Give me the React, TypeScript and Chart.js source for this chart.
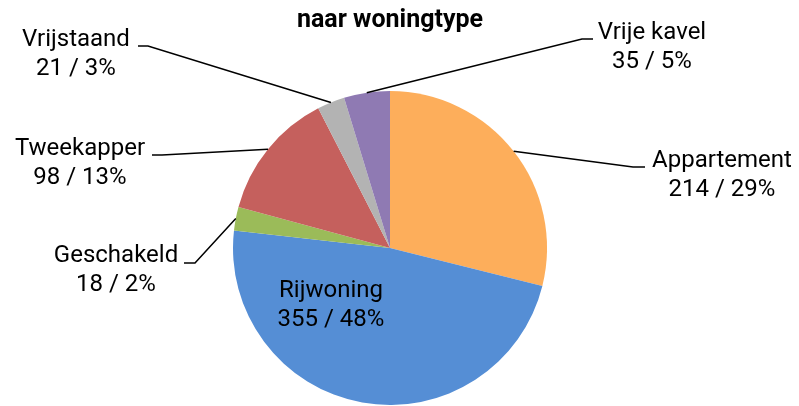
import React, { useEffect, useRef } from "react";
import { Chart, registerables } from "chart.js";

Chart.register(...registerables);

const categories = ["Appartement", "Rijwoning", "Geschakeld", "Tweekapper", "Vrijstaand", "Vrije kavel"];
const counts = [214, 355, 18, 98, 21, 35];
const percentLabels = ["29%", "48%", "2%", "13%", "3%", "5%"];
const sliceColors = ["#FDAE5B", "#558ED5", "#9BBB59", "#C5605D", "#B3B3B3", "#8F7AB3"];
const titleText = "naar woningtype";

// label layout: text centre x, first baseline y, optional elbow (ex,ey) and line end x (hx)
const labelLayout = [
  { tx: 722, ty: 167, inside: false, ex: 633, ey: 167, hx: 645 },
  { tx: 331, ty: 297, inside: true, ex: 0, ey: 0, hx: 0 },
  { tx: 116, ty: 262, inside: false, ex: 195, ey: 263, hx: 184 },
  { tx: 80, ty: 155, inside: false, ex: 162, ey: 155, hx: 152 },
  { tx: 76, ty: 46, inside: false, ex: 148, ey: 46, hx: 138 },
  { tx: 652, ty: 39, inside: false, ex: 582, ey: 39, hx: 593 },
];

const FONT = "Roboto, 'Noto Sans', sans-serif";

const labelPlugin = {
  id: "pieLabels",
  afterDatasetsDraw(chart: any) {
    const ctx = chart.ctx;
    const meta = chart.getDatasetMeta(0);
    ctx.save();
    // title
    ctx.fillStyle = "#000";
    ctx.font = `bold 25px ${FONT}`;
    ctx.textAlign = "center";
    ctx.textBaseline = "alphabetic";
    ctx.fillText(titleText, 390, 27);

    meta.data.forEach((arc: any, i: number) => {
      const L = labelLayout[i];
      const props = arc.getProps(["x", "y", "startAngle", "endAngle", "outerRadius"], true);
      const mid = (props.startAngle + props.endAngle) / 2;
      const px = props.x + Math.cos(mid) * props.outerRadius;
      const py = props.y + Math.sin(mid) * props.outerRadius;
      if (!L.inside) {
        ctx.strokeStyle = "#000";
        ctx.lineWidth = 1.5;
        ctx.beginPath();
        ctx.moveTo(px, py);
        ctx.lineTo(L.ex, L.ey);
        ctx.lineTo(L.hx, L.ey);
        ctx.stroke();
      }
      ctx.fillStyle = "#000";
      ctx.font = `24px ${FONT}`;
      ctx.textAlign = "center";
      ctx.fillText(categories[i], L.tx, L.ty);
      ctx.fillText(`${counts[i]} / ${percentLabels[i]}`, L.tx, L.ty + 29);
    });
    ctx.restore();
  },
};

export default function App() {
  const ref = useRef<HTMLCanvasElement>(null);
  useEffect(() => {
    document.body.style.margin = "0";
    const chart = new Chart(ref.current!, {
      type: "pie",
      data: {
        labels: categories,
        datasets: [
          {
            data: counts,
            backgroundColor: sliceColors,
            borderWidth: 0,
            hoverOffset: 0,
            offset: 0,
          },
        ],
      },
      options: {
        responsive: false,
        animation: false,
        devicePixelRatio: 1,
        layout: { padding: { left: 0, right: 19, top: 91, bottom: 1 } },
        plugins: {
          legend: { display: false },
          title: { display: false },
          tooltip: { enabled: false },
        },
      },
      plugins: [labelPlugin],
    });
    return () => chart.destroy();
  }, []);
  return (
    <div style={{ position: "absolute", left: 0, top: 0, width: 799, height: 406, background: "#fff" }}>
      <canvas ref={ref} width={799} height={406} style={{ width: 799, height: 406 }} />
    </div>
  );
}
